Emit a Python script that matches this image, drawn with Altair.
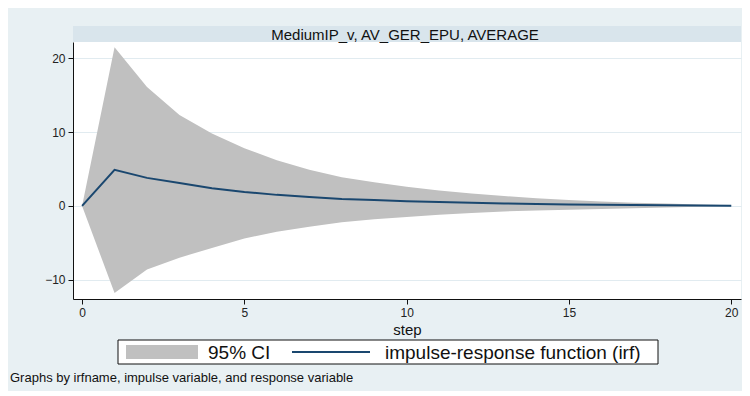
import altair as alt
import pandas as pd

steps = list(range(21))
irf = [0, 4.9, 3.8, 3.1, 2.4, 1.9, 1.5, 1.2, 0.95, 0.8, 0.65, 0.52, 0.42, 0.34,
       0.27, 0.21, 0.16, 0.12, 0.09, 0.06, 0.04]
upper = [0, 21.5, 16.1, 12.3, 9.8, 7.8, 6.2, 4.9, 3.9, 3.2, 2.6, 2.1, 1.7, 1.35,
         1.05, 0.8, 0.6, 0.45, 0.32, 0.2, 0.1]
lower = [0, -11.8, -8.6, -7.0, -5.7, -4.4, -3.5, -2.8, -2.2, -1.8, -1.5, -1.2,
         -0.95, -0.75, -0.6, -0.5, -0.4, -0.3, -0.2, -0.12, -0.05]

panel_title = "MediumIP_v, AV_GER_EPU, AVERAGE"
x_ticks = [0, 5, 10, 15, 20]
y_ticks = [-10, 0, 10, 20]
legend_labels = ["95% CI", "impulse-response function (irf)"]
note = "Graphs by irfname, impulse variable, and response variable"

df = pd.DataFrame({"step": steps, "irf": irf, "upper": upper, "lower": lower})
one = pd.DataFrame({"k": [0]})

W, H = 668, 257
FONT = "Liberation Sans"
CI_COL = "#c0c0c0"
LINE_COL = "#1a476f"

xs = alt.Scale(domain=[-0.28, 20.3], nice=False, zero=False)
ys = alt.Scale(domain=[-12.6, 22.2], nice=False, zero=False)

band = alt.Chart(df).mark_area(color=CI_COL, opacity=1).encode(
    x=alt.X("step:Q", scale=xs,
            axis=alt.Axis(values=x_ticks, title="step", grid=False, tickSize=5,
                          labelFontSize=12, titleFontSize=15, titleFontWeight="normal",
                          titlePadding=4, labelPadding=3)),
    y=alt.Y("lower:Q", scale=ys,
            axis=alt.Axis(values=y_ticks, title=None, grid=True, gridColor="#e1ebf0",
                          tickSize=5, labelFontSize=12, labelPadding=3)),
    y2="upper:Q",
)

line = alt.Chart(df).mark_line(color=LINE_COL, strokeWidth=2).encode(
    x=alt.X("step:Q", scale=xs),
    y=alt.Y("irf:Q", scale=ys),
)

strip = alt.Chart(one).mark_rect(color="#d9e5ec").encode(
    x=alt.value(0), x2=alt.value(W), y=alt.value(-16), y2=alt.value(0))
strip_text = alt.Chart(one).mark_text(fontSize=15, font=FONT, color="#111",
                                      baseline="middle").encode(
    x=alt.value(W / 2 - 2), y=alt.value(-7.5), text=alt.value(panel_title))

leg_box = alt.Chart(one).mark_rect(fill="white", stroke="#111", strokeWidth=1).encode(
    x=alt.value(45), x2=alt.value(585), y=alt.value(298), y2=alt.value(322))
leg_sw = alt.Chart(one).mark_rect(color=CI_COL).encode(
    x=alt.value(53), x2=alt.value(125), y=alt.value(303), y2=alt.value(317))
leg_t1 = alt.Chart(one).mark_text(fontSize=19, font=FONT, color="#111", align="left",
                                  baseline="middle").encode(
    x=alt.value(135), y=alt.value(311), text=alt.value(legend_labels[0]))
leg_ln = alt.Chart(one).mark_rule(color=LINE_COL, strokeWidth=2).encode(
    x=alt.value(219), x2=alt.value(297), y=alt.value(310))
leg_t2 = alt.Chart(one).mark_text(fontSize=19, font=FONT, color="#111", align="left",
                                  baseline="middle").encode(
    x=alt.value(312), y=alt.value(311), text=alt.value(legend_labels[1]))
note_t = alt.Chart(one).mark_text(fontSize=13, font=FONT, color="#111", align="left",
                                  baseline="middle").encode(
    x=alt.value(-63), y=alt.value(336), text=alt.value(note))

chart = alt.layer(
    band, line, strip, strip_text, leg_box, leg_sw, leg_t1, leg_ln, leg_t2, note_t
).properties(
    width=W, height=H,
    padding={"left": 65, "top": 34, "right": 1, "bottom": 92},
    autosize=alt.AutoSizeParams(type="none"),
).configure(
    background="#e8f0f3", font=FONT
).configure_view(
    fill="white", strokeWidth=0
).configure_axis(
    domainColor="#111", tickColor="#111", labelColor="#222", titleColor="#111",
    labelFont=FONT, titleFont=FONT
)

chart.save("out.html", embed_options={"renderer": "svg", "actions": False})
